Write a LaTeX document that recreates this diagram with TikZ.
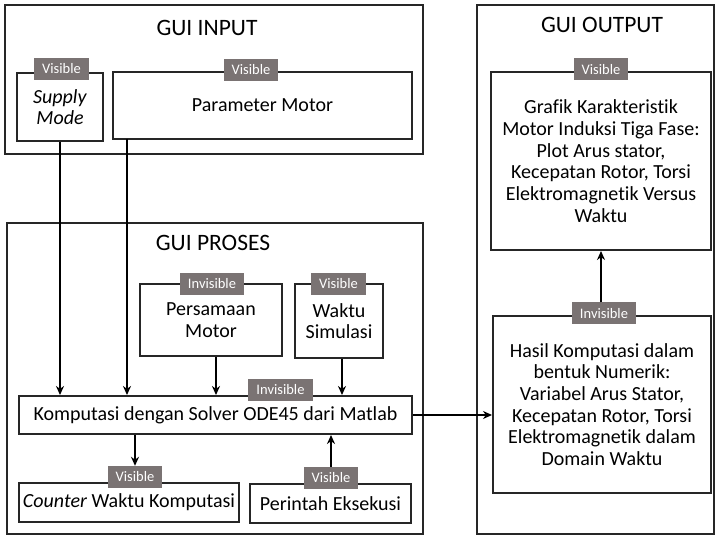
\documentclass[tikz,border=0pt]{standalone}
\usepackage{fontspec}
\setmainfont{Carlito}[Ligatures=NoCommon]
\usetikzlibrary{arrows.meta,calc,positioning}
\definecolor{tagabu}{RGB}{122,115,115}

\begin{document}
\begin{tikzpicture}[x=1pt,y=-1pt,
  panel/.style={draw=black!85,line width=2pt,inner sep=0pt},
  blok/.style={draw=black!85,line width=2pt,align=center,inner sep=0pt,font=\fontsize{20}{21.7}\selectfont},
  tanda/.style={fill=tagabu,text=white,inner xsep=8pt,inner ysep=0pt,minimum height=22pt,font=\fontsize{14.5}{16}\selectfont},
  judul/.style={font=\fontsize{23.5}{26}\selectfont},
  panah/.style={line width=2pt,-{Stealth[length=9pt,width=8pt]}}]
  \useasboundingbox (0,0) rectangle (715,537);
  % the three panels
  \node[panel,minimum width=418,minimum height=149] (input) at (214,79.5) {};
  \node[panel,minimum width=416,minimum height=311] (proses) at (215,378.5) {};
  \node[panel,minimum width=237,minimum height=529] (output) at (595.5,269.5) {};
  \node[judul] (tin) at (207,28) {GUI INPUT};
  \node[judul] (tpr) at (213,243) {GUI PROSES};
  \node[judul] (tout) at (602,25) {GUI OUTPUT};

  % GUI input
  \node[blok,minimum width=86,minimum height=68] (supply) at (60,107) {\textit{Supply}\\\textit{Mode}};
  \node[blok,minimum width=299,minimum height=67] (param) at (262.5,105.5) {Parameter Motor};
  \node[tanda] (vsupply) at (61.5,69) {Visible};
  \node[tanda] (vparam) at (251,70) {Visible};

  % GUI proses
  \node[blok,minimum width=142,minimum height=72] (persamaan) at (211,320) {Persamaan\\Motor};
  \node[blok,minimum width=88,minimum height=74] (waktu) at (339,321) {Waktu\\Simulasi};
  \node[blok,minimum width=393,minimum height=38] (komputasi) at (215.5,415) {Komputasi dengan Solver ODE45 dari Matlab};
  \node[blok,minimum width=220,minimum height=39] (counter) at (129,502.5) {\textit{Counter} Waktu Komputasi};
  \node[blok,minimum width=161,minimum height=39] (perintah) at (330.5,503.5) {Perintah Eksekusi};
  \node[tanda] (ipersamaan) at (212,284) {Invisible};
  \node[tanda] (vwaktu) at (338.5,284) {Visible};
  \node[tanda] (ikomputasi) at (280.5,390) {Invisible};
  \node[tanda] (vcounter) at (135,477) {Visible};
  \node[tanda] (vperintah) at (331,478) {Visible};

  % GUI output
  \node[blok,minimum width=220,minimum height=178] (grafik) at (601,161) {Grafik Karakteristik\\Motor Induksi Tiga Fase:\\Plot Arus stator,\\Kecepatan Rotor, Torsi\\Elektromagnetik Versus\\Waktu};
  \node[blok,minimum width=218,minimum height=177] (hasil) at (602,404.5) {Hasil Komputasi dalam\\bentuk Numerik:\\Variabel Arus Stator,\\Kecepatan Rotor, Torsi\\Elektromagnetik dalam\\Domain Waktu};
  \node[tanda] (vgrafik) at (601,69.5) {Visible};
  \node[tanda] (ihasil) at (604,313.5) {Invisible};

  % arrows
  \coordinate (pm) at (127,139);
  \draw[panah] (supply.south) -- (supply.south |- komputasi.north);
  \draw[panah] (pm) -- (pm |- komputasi.north);
  \draw[panah] ($(persamaan.south)+(5,0)$) -- ($(persamaan.south |- komputasi.north)+(5,0)$);
  \draw[panah] ($(waktu.south)+(3,0)$) -- ($(waktu.south |- komputasi.north)+(3,0)$);
  \draw[panah] (komputasi.south -| vcounter.north) -- (vcounter.north);
  \draw[panah] (vperintah.north) -- (vperintah.north |- komputasi.south);
  \draw[panah] (komputasi.east) -- (komputasi.east -| hasil.west);
  \draw[panah] (ihasil.north -| grafik.south) -- (grafik.south);
\end{tikzpicture}
\end{document}
